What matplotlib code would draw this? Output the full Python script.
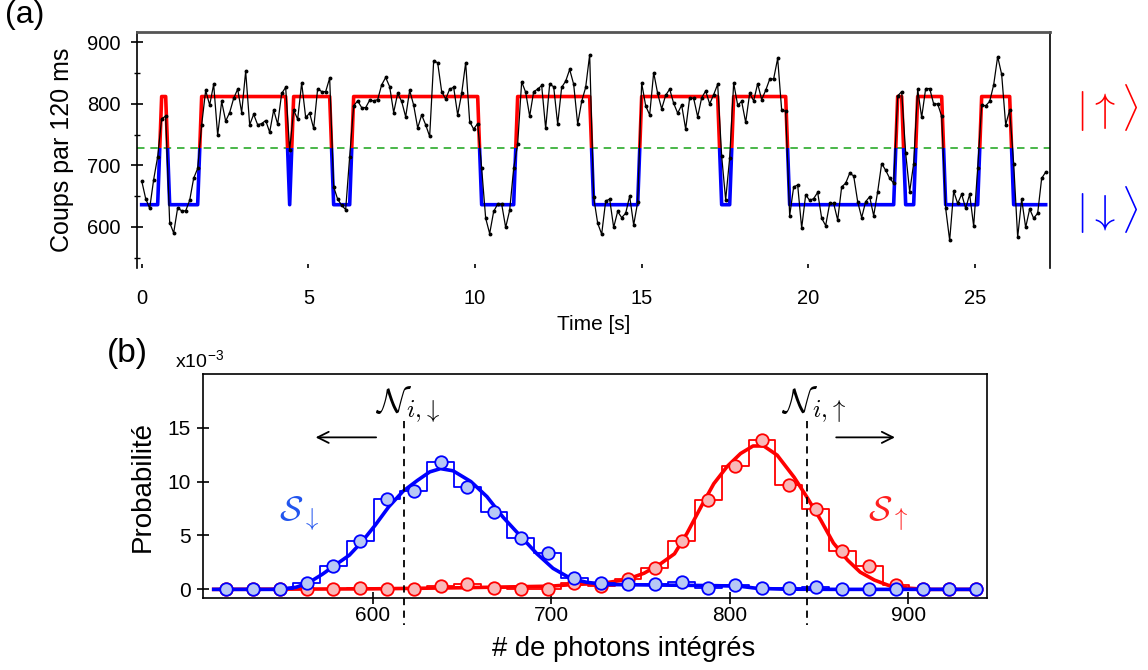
import numpy as np
import matplotlib
matplotlib.use("Agg")
import matplotlib.pyplot as plt
from matplotlib.patches import Rectangle

plt.rcParams['font.family'] = ['Liberation Sans', 'DejaVu Sans']
plt.rcParams['mathtext.fontset'] = 'cm'

# ---------------- panel (a) data ----------------
dt = 0.12  # s per sample
counts = [
    675, 646, 630, 677, 714, 776, 780, 607, 590, 631,
    626, 626, 643, 679, 695, 766, 822, 798, 832, 749,
    804, 772, 786, 809, 824, 786, 853, 766, 783, 766,
    768, 773, 754, 790, 767, 817, 827, 725, 790, 775,
    834, 778, 785, 760, 825, 820, 820, 842, 665, 645,
    635, 628, 714, 797, 805, 794, 794, 806, 805, 807,
    831, 843, 828, 786, 817, 804, 779, 822, 798, 761,
    782, 766, 747, 870, 867, 820, 808, 824, 827, 782,
    817, 867, 771, 759, 768, 695, 614, 589, 625, 637,
    637, 599, 627, 695, 735, 836, 819, 780, 820, 824,
    830, 760, 832, 828, 767, 827, 837, 856, 832, 767,
    804, 827, 880, 648, 606, 588, 642, 645, 599, 625,
    615, 622, 650, 603, 640, 834, 797, 782, 851, 817,
    792, 814, 824, 801, 785, 798, 759, 810, 809, 779,
    810, 821, 800, 815, 832, 715, 644, 712, 834, 798,
    804, 770, 817, 805, 833, 807, 822, 840, 841, 874,
    790, 788, 618, 665, 668, 598, 652, 643, 646, 656,
    614, 602, 638, 638, 611, 665, 671, 687, 683, 641,
    615, 641, 649, 618, 657, 703, 692, 679, 671, 813,
    820, 720, 657, 703, 824, 778, 825, 825, 800, 800,
    780, 630, 578, 658, 638, 653, 630, 653, 601, 695,
    798, 797, 804, 831, 877, 848, 766, 790, 703, 583,
    645, 599, 629, 614, 622, 679, 689,
]
threshold = 728
level_up = 812
level_down = 636

# ---------------- panel (b) data ----------------
bin_centers = [518, 533, 548, 563, 578, 593, 608, 623, 638, 653, 668, 683,
               698, 713, 728, 743, 758, 773, 788, 803, 818, 833, 848, 863,
               878, 893, 908, 923, 938]
prob_down = [0, 0, 0, 0.6, 2.2, 4.5, 8.4, 9.15, 11.85, 9.5, 7.2, 4.8,
             3.4, 1.1, 0.6, 0.5, 0.5, 0.65, 0.15, 0.45, 0.1, 0.1, 0.2, 0,
             0, 0, 0, 0, 0]
prob_up = [0, 0, 0, 0, 0, 0.15, 0, 0, 0.3, 0.5, 0.1, 0,
           0, 0.55, 0.3, 1.0, 2.0, 4.5, 8.3, 11.4, 13.9, 9.7, 7.5, 3.55,
           2.15, 0.4, 0, 0, 0]
fit_down_x = [511, 530, 547, 557, 564, 572, 579, 587, 594, 601.5, 609, 617,
              625, 632, 638, 645, 655, 664, 673, 683, 692, 701, 711, 720,
              731, 760, 790, 805, 815, 830, 860, 940]
fit_down_y = [0, 0, 0, 0.19, 0.6, 1.42, 2.25, 3.18, 4.42, 5.97, 7.66, 9.1,
              10.1, 10.9, 11.2, 11.0, 10.0, 8.6, 6.7, 4.9, 3.3, 1.95, 1.0, 0.65,
              0.45, 0.4, 0.35, 0.3, 0.1, 0.02, 0, 0]
fit_up_x = [511, 600, 650, 700, 712, 728, 742, 752, 761, 769, 776, 784, 791,
            798.5, 806, 813, 819, 826.5, 836, 843, 851, 858, 866, 873, 881,
            890, 901, 911, 940]
fit_up_y = [0, 0.05, 0.15, 0.3, 0.45, 0.55, 0.9, 1.5, 2.35, 3.3, 5.2, 7.7, 9.8,
            11.4, 12.6, 13.3, 13.3, 12.45, 10.4, 8.6, 6.4, 4.3, 2.7, 1.6, 0.86,
            0.3, 0.1, 0, 0]
n_thr_down = 617.5
n_thr_up = 843

W, H = 1148, 670
fig = plt.figure(figsize=(W / 100, H / 100), dpi=100)

# ================= panel (a) =================
ax1 = fig.add_axes([137 / W, 1 - 268 / H, 913 / W, 236 / H])
t = np.arange(len(counts)) * dt
cnt = np.array(counts)
state = np.where(cnt > threshold, level_up, level_down)

ax1.axhline(threshold, color='#2aaa2a', ls=(0, (4.5, 3.5)), lw=1.2, zorder=1)
for col, y0 in [('#ff0000', threshold), ('#0000ff', threshold - 2000)]:
    ln, = ax1.plot(t, state, color=col, lw=2.6, zorder=2,
                   solid_joinstyle='round')
    rect = Rectangle((-10, y0), 100, 2000, transform=ax1.transData)
    ln.set_clip_path(rect)
ax1.plot(t, cnt, '-o', color='k', lw=0.9, ms=1.8, zorder=3)

ax1.set_xlim(-0.14, 27.25)
ax1.set_ylim(533, 917)
ax1.set_yticks([600, 700, 800, 900])
ax1.set_yticks([550, 650, 750, 850], minor=True)
ax1.set_xticks([0, 5, 10, 15, 20, 25])
ax1.tick_params(axis='y', which='major', direction='inout', length=8,
                width=1.2, labelsize=14.5, pad=8)
ax1.tick_params(axis='y', which='minor', direction='inout', length=5, width=1)
ax1.tick_params(axis='x', which='major', direction='in', length=3, width=1.2,
                labelsize=14.5, pad=15)
ax1.spines['bottom'].set_visible(False)
ax1.spines['top'].set_color('#555555')
ax1.spines['top'].set_linewidth(2)
ax1.spines['right'].set_linewidth(1.2)
ax1.spines['left'].set_linewidth(1.2)
ax1.set_xlabel('Time [s]', fontsize=15, labelpad=5)
ax1.set_ylabel('Coups par 120 ms', fontsize=18, labelpad=9)

fig.text(1107 / W, 1 - 108 / H, r'$|\uparrow\rangle$', color='#ff0000',
         fontsize=29, ha='center', va='center')
fig.text(1107 / W, 1 - 210 / H, r'$|\downarrow\rangle$', color='#0000ff',
         fontsize=29, ha='center', va='center')
fig.text(5 / W, 1 - 0 / H, '(a)', fontsize=23, ha='left', va='top')

# ================= panel (b) =================
ax2 = fig.add_axes([203 / W, 1 - 598 / H, 784 / W, 223.7 / H])
ax2.plot(bin_centers, prob_up, drawstyle='steps-mid', color='#ff0000', lw=1.3, zorder=2)
ax2.plot(fit_up_x, fit_up_y, color='#ff0000', lw=2.6, zorder=3)
ax2.plot(bin_centers, prob_up, 'o', ms=9, mfc='#f9b8b8', mec='#ff0000',
         mew=1.3, zorder=4)
ax2.plot(bin_centers, prob_down, drawstyle='steps-mid', color='#0000ff', lw=1.3, zorder=5)
ax2.plot(fit_down_x, fit_down_y, color='#0000ff', lw=2.6, zorder=6)
ax2.plot(bin_centers, prob_down, 'o', ms=9, mfc='#b8c8f5', mec='#0000ff',
         mew=1.3, zorder=7)

for xv in (n_thr_down, n_thr_up):
    ax2.plot([xv, xv], [15.6, -3.3], color='k', ls=(0, (4, 3)), lw=1.3,
             clip_on=False, zorder=8)

ax2.text(n_thr_down + 2, 17.1, r'$\mathcal{N}_{i,\!\downarrow}$', fontsize=25,
         ha='center', va='center')
ax2.text(n_thr_up + 4, 17.1, r'$\mathcal{N}_{i,\!\uparrow}$', fontsize=25,
         ha='center', va='center')
ax2.text(559, 6.9, r'$\mathcal{S}_{\downarrow}$', color='#2255ee', fontsize=25,
         ha='center', va='center')
ax2.text(889, 6.9, r'$\mathcal{S}_{\uparrow}$', color='#ff2020', fontsize=25,
         ha='center', va='center')
ax2.annotate('', xy=(566.5, 14.1), xytext=(603.5, 14.1),
             arrowprops=dict(arrowstyle='->', lw=1.3, color='k',
                             mutation_scale=20))
ax2.annotate('', xy=(894, 14.1), xytext=(858, 14.1),
             arrowprops=dict(arrowstyle='->', lw=1.3, color='k',
                             mutation_scale=20))

ax2.set_xlim(505, 944)
ax2.set_ylim(-0.8, 19.95)
ax2.set_xticks([600, 700, 800, 900])
ax2.set_yticks([0, 5, 10, 15])
ax2.tick_params(axis='both', direction='inout', length=8, width=1.2,
                labelsize=15)
ax2.tick_params(axis='x', pad=2)
ax2.tick_params(axis='y', pad=5)
for s in ax2.spines.values():
    s.set_linewidth(1.2)
ax2.set_xlabel('# de photons intégrés', fontsize=19.7, labelpad=5)
ax2.xaxis.set_label_coords((624 - 203) / 784, -0.17)
ax2.set_ylabel('Probabilité', fontsize=20, labelpad=8)
fig.text(175 / W, 1 - 361 / H, r'x10$^{\mathregular{-3}}$', fontsize=14,
         ha='left', va='center')
fig.text(107 / W, 1 - 338 / H, '(b)', fontsize=24, ha='left', va='top')

fig.savefig('out.png', dpi=100)
